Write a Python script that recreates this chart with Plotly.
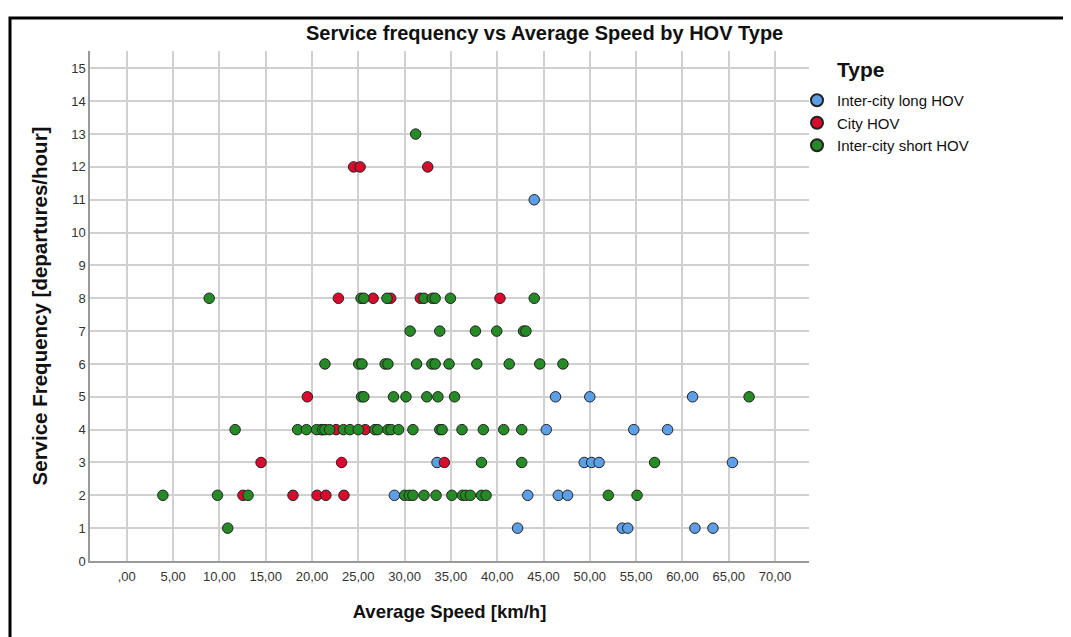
import plotly.graph_objects as go

# ---- data ----
long_speed = [44.0, 46.3, 50.0, 61.1, 45.3, 54.75, 58.4, 33.5, 49.4, 50.2, 51.0, 65.4,
              28.9, 43.3, 46.6, 47.6, 42.2, 53.5, 54.1, 61.35, 63.3]
long_freq = [11, 5, 5, 5, 4, 4, 4, 3, 3, 3, 3, 3,
             2, 2, 2, 2, 1, 1, 1, 1, 1]

city_speed = [24.5, 25.2, 32.5, 22.85, 26.6, 28.5, 31.7, 40.3, 19.5, 21.0, 22.6, 25.75,
              14.5, 23.2, 34.3, 12.55, 17.95, 20.55, 21.5, 23.45]
city_freq = [12, 12, 12, 8, 8, 8, 8, 8, 5, 4, 4, 4,
             3, 3, 3, 2, 2, 2, 2, 2]

short_speed = [31.2,
               8.9, 25.3, 25.6, 28.1, 32.1, 33.0, 33.3, 34.95, 44.0,
               30.6, 33.8, 37.65, 39.95, 42.85, 43.1,
               21.4, 25.05, 25.4, 27.9, 28.2, 31.3, 32.95, 33.3, 34.8, 37.8, 41.3, 44.6, 47.1,
               25.35, 25.6, 28.8, 30.15, 32.4, 33.6, 35.4, 67.2,
               11.7, 18.45, 19.4, 20.5, 21.15, 21.4, 21.9, 23.4, 24.1, 25.0, 26.8, 27.1, 28.2,
               28.55, 29.35, 30.9, 33.8, 34.05, 36.2, 38.5, 40.7, 42.65,
               38.3, 42.65, 57.0,
               3.9, 9.8, 13.1, 30.0, 30.5, 30.9, 32.1, 33.4, 35.1, 36.25, 36.6, 37.1, 38.3, 38.8, 52.0, 55.1,
               10.9]
short_freq = [13,
              8, 8, 8, 8, 8, 8, 8, 8, 8,
              7, 7, 7, 7, 7, 7,
              6, 6, 6, 6, 6, 6, 6, 6, 6, 6, 6, 6, 6,
              5, 5, 5, 5, 5, 5, 5, 5,
              4, 4, 4, 4, 4, 4, 4, 4, 4, 4, 4, 4, 4,
              4, 4, 4, 4, 4, 4, 4, 4, 4,
              3, 3, 3,
              2, 2, 2, 2, 2, 2, 2, 2, 2, 2, 2, 2, 2, 2, 2, 2,
              1]

x_tickvals = [0, 5, 10, 15, 20, 25, 30, 35, 40, 45, 50, 55, 60, 65, 70]
x_ticktext = [",00", "5,00", "10,00", "15,00", "20,00", "25,00", "30,00", "35,00",
              "40,00", "45,00", "50,00", "55,00", "60,00", "65,00", "70,00"]
y_tickvals = list(range(0, 16))

series = [
    ("Inter-city long HOV", long_speed, long_freq, "#5d9fe6"),
    ("City HOV", city_speed, city_freq, "#d80a2e"),
    ("Inter-city short HOV", short_speed, short_freq, "#268a26"),
]

FONT = "Liberation Sans, Arial, sans-serif"
W, H = 1063, 629          # page body adds an 8px margin -> fills the 1071x637 window
OFF = 8
L, R, T, B = 82, 262, 43, 76
PW = W - L - R
PH = H - T - B


def px_x(p):
    """page pixel (x) -> paper coordinate"""
    return (p - OFF - L) / PW


def px_y(p):
    """page pixel (y) -> paper coordinate"""
    return 1 - (p - OFF - T) / PH


fig = go.Figure()
for name, xs, ys, col in series:
    fig.add_trace(go.Scatter(
        x=xs, y=ys, mode="markers", name=name,
        marker=dict(size=10.5, color=col, line=dict(color="#222222", width=1)),
    ))

fig.update_layout(
    width=W, height=H,
    paper_bgcolor="white", plot_bgcolor="white",
    margin=dict(l=L, r=R, t=T, b=B, autoexpand=False),
    font=dict(family=FONT, color="#222222"),
    showlegend=True,
    legend=dict(
        x=px_x(797), xanchor="left", y=px_y(84), yanchor="top",
        font=dict(size=15, family=FONT, color="#111111"),
        itemwidth=30, itemsizing="constant", tracegroupgap=0, bgcolor="rgba(0,0,0,0)",
    ),
    annotations=[
        dict(text="<b>Service frequency vs Average Speed by HOV Type</b>",
             xref="paper", yref="paper", x=px_x(544), y=px_y(33),
             xanchor="center", yanchor="middle", showarrow=False,
             font=dict(size=20, family=FONT, color="#111111")),
        dict(text="<b>Type</b>", xref="paper", yref="paper",
             x=px_x(835), y=px_y(70),
             xanchor="left", yanchor="middle", showarrow=False,
             font=dict(size=21, family=FONT, color="#111111")),
    ],
    shapes=[
        dict(type="rect", xref="paper", yref="paper",
             x0=px_x(10), x1=px_x(1068),
             y0=px_y(720), y1=px_y(18),
             line=dict(color="black", width=3), fillcolor="rgba(0,0,0,0)", layer="above"),
    ],
)

fig.update_xaxes(
    range=[-3.97, 73.67], tickvals=x_tickvals, ticktext=x_ticktext, automargin=False,
    showgrid=True, gridcolor="#d0d0d0", gridwidth=1.6,
    showline=True, linecolor="#999999", linewidth=1.5,
    zeroline=False, ticks="", ticklabelstandoff=3, tickfont=dict(size=13, color="#333333"),
    title=dict(text="<b>Average Speed [km/h]</b>", font=dict(size=18.5, color="#111111"), standoff=22),
)
fig.update_yaxes(
    range=[0, 15.53], tickvals=y_tickvals, automargin=False,
    showgrid=True, gridcolor="#d0d0d0", gridwidth=1.6,
    showline=True, linecolor="#999999", linewidth=1.5,
    zeroline=False, ticks="", tickfont=dict(size=13, color="#333333"),
    title=dict(text="<b>Service Frequency [departures/hour]</b>", font=dict(size=20.5, color="#111111"), standoff=18),
)

fig.write_html("out.html")
